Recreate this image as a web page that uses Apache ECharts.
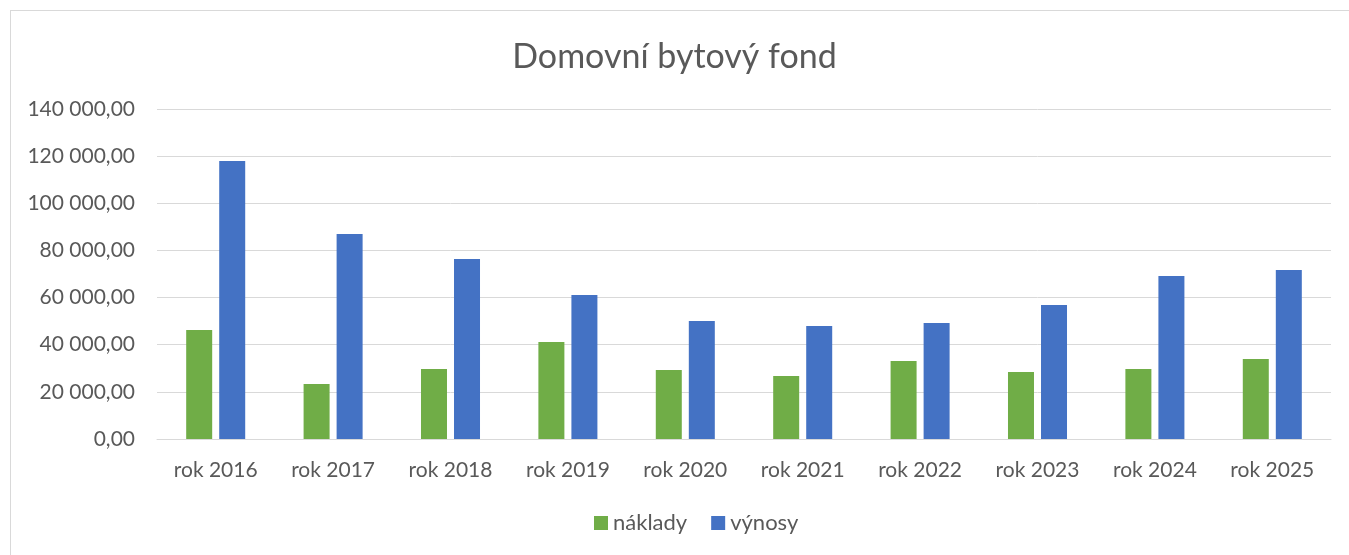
<!DOCTYPE html>
<html>
<head>
<meta charset="utf-8">
<script src="https://cdn.jsdelivr.net/npm/echarts@6/dist/echarts.min.js"></script>
<style>
  html, body { margin: 0; padding: 0; background: #fff; }
  #frame { position: absolute; left: 10px; top: 10px; width: 1345px; height: 550px; border: 1px solid #d9d9d9; box-sizing: border-box; }
  #chart { position: absolute; left: 0; top: 0; width: 1349px; height: 555px; }
</style>
</head>
<body>
<div id="frame"></div>
<div id="chart"></div>
<script>
const categories = ["rok 2016", "rok 2017", "rok 2018", "rok 2019", "rok 2020", "rok 2021", "rok 2022", "rok 2023", "rok 2024", "rok 2025"];
const seriesNames = ["náklady", "výnosy"];
const naklady = [46200, 23300, 29700, 41200, 29300, 26700, 33100, 28400, 29700, 33900];
const vynosy = [117900, 87000, 76400, 61100, 50100, 47900, 49200, 56900, 69200, 71700];

const font = "Lato, 'Open Sans', sans-serif";
const textColor = "#595959";

// formát 140 000,00
const fmt = v => {
    const s = Math.round(v).toString().replace(/\B(?=(\d{3})+(?!\d))/g, " ");
    return s + ",00";
};

const chart = echarts.init(document.getElementById("chart"));

const option = {
    backgroundColor: "transparent",
    animation: false,
    title: {
        text: "Domovní bytový fond",
        left: "center",
        top: 35,
        textStyle: { color: textColor, fontSize: 34, fontWeight: "normal", fontFamily: font },
    },
    grid: { left: 157, right: 18, top: 109, bottom: 116 },
    legend: {
        data: seriesNames,
        bottom: 16,
        left: 589,
        itemWidth: 14,
        itemHeight: 14,
        itemGap: 24,
        icon: "rect",
        textStyle: { color: textColor, fontSize: 22, fontFamily: font },
    },
    xAxis: {
        type: "category",
        data: categories,
        axisLine: { lineStyle: { color: "#d9d9d9", width: 1 } },
        axisTick: { show: false },
        axisLabel: { color: textColor, fontSize: 21, fontFamily: font, margin: 21 },
    },
    yAxis: {
        type: "value",
        min: 0,
        max: 140000,
        interval: 20000,
        axisLine: { show: false },
        axisTick: { show: false },
        axisLabel: { color: textColor, fontSize: 21, fontFamily: font, margin: 22, formatter: fmt },
        splitLine: { lineStyle: { color: "#d9d9d9", width: 1 } },
    },
    series: [
        {
            name: seriesNames[0],
            type: "bar",
            data: naklady,
            barWidth: 26,
            barGap: "27%",
            itemStyle: { color: "#70ad47" },
        },
        {
            name: seriesNames[1],
            type: "bar",
            data: vynosy,
            barWidth: 26,
            itemStyle: { color: "#4472c4" },
        },
    ],
};

chart.setOption(option);
</script>
</body>
</html>
